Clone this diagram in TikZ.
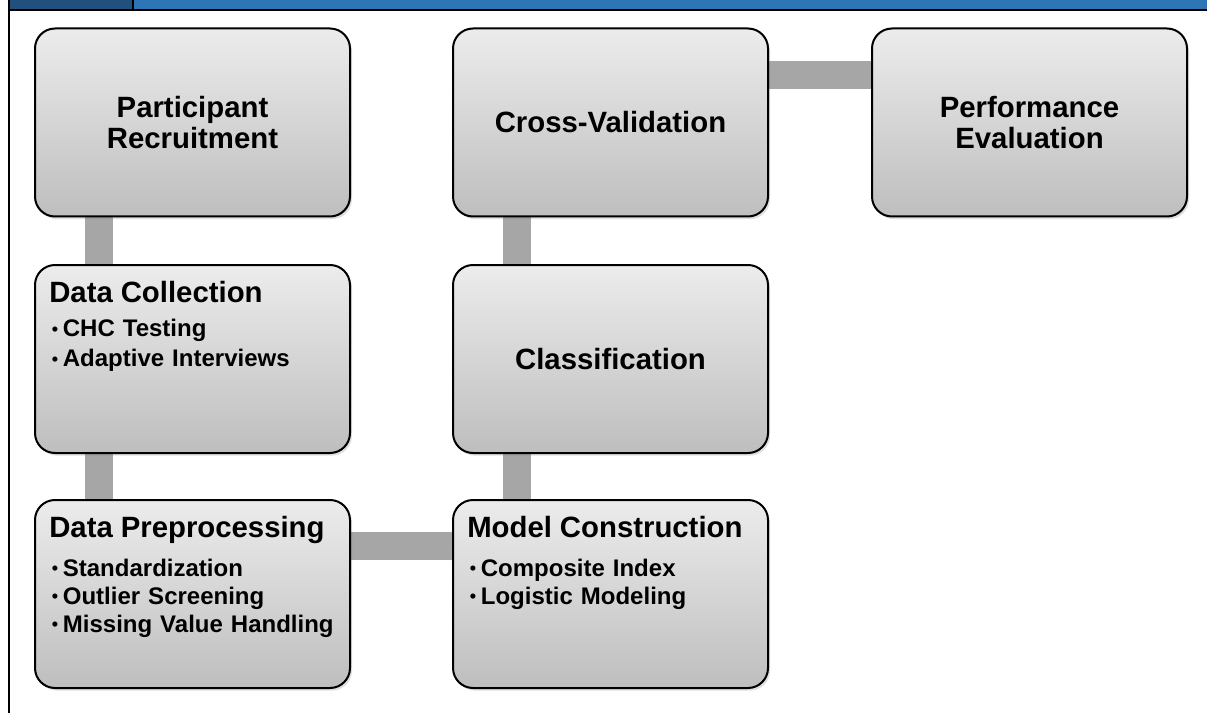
\documentclass[tikz,border=0pt]{standalone}
\usepackage{fontspec}
\setmainfont{Liberation Sans}
\usetikzlibrary{shadows,backgrounds}
\definecolor{boxtop}{RGB}{236,236,236}
\definecolor{boxbottom}{RGB}{190,190,190}
\definecolor{linkgray}{RGB}{166,166,166}
\definecolor{hdrdark}{RGB}{33,80,124}
\definecolor{hdrblue}{RGB}{46,117,182}
\newcommand{\stagetitle}{\fontsize{22}{23}\selectfont\bfseries}
\newcommand{\stageitem}[1]{\par\hspace*{2pt}\raisebox{1pt}{\scalebox{0.75}{\textbullet}}\hspace{3.5pt}#1}
\tikzset{
  stage/.style={
    draw,
    line width=1.5pt,
    rounded corners=15pt,
    minimum width=236.25pt,
    minimum height=141pt,
    top color=boxtop,
    bottom color=boxbottom,
    drop shadow={shadow xshift=1.5pt, shadow yshift=-2pt, opacity=0.25},
    font=\stagetitle,
    align=center
  },
  stagetext/.style={
    anchor=north west,
    inner sep=0pt,
    text width=222pt,
    align=left,
    font=\fontsize{18}{21}\selectfont\bfseries
  },
  link/.style={
    draw=linkgray,
    line width=21pt
  }
}

\begin{document}
\begin{tikzpicture}[x=0.75pt,y=-0.75pt]
    \useasboundingbox (0,0) rectangle (1207,713);
    % header strip
    \fill[hdrdark] (9,0) rectangle (133,9);
    \fill[hdrblue] (133,0) rectangle (1207,9);
    \draw[line width=1pt] (133,0) -- (133,9);
    \draw[line width=1.5pt] (8,10) -- (1207,10);
    \draw[line width=1.5pt] (9,0) -- (9,713);

    \node[stage] (rec) at (192.5,122.5) {Participant\\Recruitment};
    \node[stage] (col) at (192.5,359) {};
    \node[stage] (pre) at (192.5,594) {};
    \node[stage] (mod) at (610.5,594) {};
    \node[stage] (cla) at (610.5,359) {Classification};
    \node[stage] (cro) at (610.5,122.5) {Cross-Validation};
    \node[stage] (per) at (1029.5,122.5) {Performance\\Evaluation};

    \node[stagetext, font=\fontsize{18}{22.5}\selectfont\bfseries] (coltext)
        at ([xshift=11.25pt,yshift=-12.5pt]col.north west)
        {{\stagetitle Data Collection\par}\vspace{3.5pt}
         \stageitem{CHC Testing}
         \stageitem{Adaptive Interviews}};
    \node[stagetext] (pretext) at ([xshift=11.25pt,yshift=-12.5pt]pre.north west)
        {{\stagetitle Data Preprocessing\par}\vspace{8.25pt}
         \stageitem{Standardization}
         \stageitem{Outlier Screening}
         \stageitem{Missing Value Handling}};
    \node[stagetext] (modtext) at ([xshift=11.25pt,yshift=-12.5pt]mod.north west)
        {{\stagetitle Model Construction\par}\vspace{8.25pt}
         \stageitem{Composite Index}
         \stageitem{Logistic Modeling}};

    \begin{pgfonlayer}{background}
        \draw[link] ([xshift=48.75pt]rec.south west) -- ([xshift=48.75pt]col.north west);
        \draw[link] ([xshift=48.75pt]col.south west) -- ([xshift=48.75pt]pre.north west);
        \draw[link] ([yshift=-35.6pt]pre.north east) -- ([yshift=-35.6pt]mod.north west);
        \draw[link] ([xshift=48.75pt]mod.north west) -- ([xshift=48.75pt]cla.south west);
        \draw[link] ([xshift=48.75pt]cla.north west) -- ([xshift=48.75pt]cro.south west);
        \draw[link] ([yshift=-35.6pt]cro.north east) -- ([yshift=-35.6pt]per.north west);
    \end{pgfonlayer}
\end{tikzpicture}
\end{document}
